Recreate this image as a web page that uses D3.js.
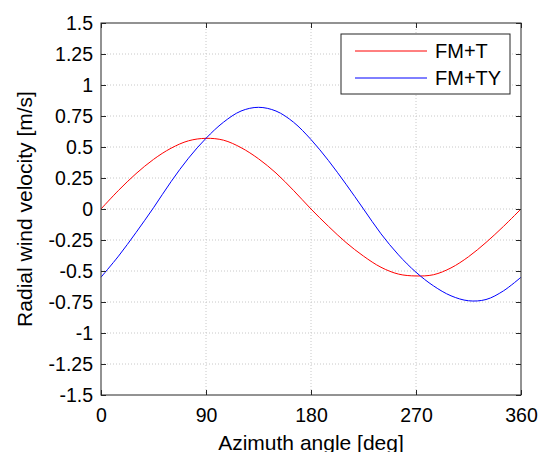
<!DOCTYPE html>
<html>
<head>
<meta charset="utf-8">
<script src="https://cdn.jsdelivr.net/npm/d3@7"></script>
<style>
  body { margin: 0; background: #fff; }
  svg { display: block; font-family: "Liberation Sans", Arial, sans-serif; }
</style>
</head>
<body>
<svg width="539" height="452"></svg>
<script>
// Data
var angles = [0, 15, 30, 45, 60, 75, 90, 105, 120, 135, 150, 165, 180,
              195, 210, 225, 240, 255, 270, 285, 300, 315, 330, 345, 360];
var fmT  = [0, 0.15, 0.285, 0.40, 0.49, 0.55, 0.57, 0.555, 0.495, 0.405, 0.29, 0.15, 0,
            -0.14, -0.27, -0.38, -0.47, -0.525, -0.54, -0.53, -0.475, -0.385, -0.27, -0.14, 0];
var fmTY = [-0.55, -0.38, -0.19, 0.01, 0.22, 0.41, 0.57, 0.70, 0.79, 0.82, 0.79, 0.70, 0.56,
            0.39, 0.20, 0, -0.20, -0.37, -0.51, -0.62, -0.70, -0.74, -0.73, -0.66, -0.55];
var xTicks = [0, 90, 180, 270, 360];
var yTicks = [-1.5, -1.25, -1, -0.75, -0.5, -0.25, 0, 0.25, 0.5, 0.75, 1, 1.25, 1.5];
var series = [
  { name: 'FM+T',  values: fmT,  color: '#ff0000' },
  { name: 'FM+TY', values: fmTY, color: '#0000ff' }
];

var margin = { left: 101, top: 23, right: 521, bottom: 395 };
var svg = d3.select('svg');

var x = d3.scaleLinear().domain([0, 360]).range([margin.left, margin.right]);
var y = d3.scaleLinear().domain([-1.5, 1.5]).range([margin.bottom, margin.top]);

// Grid
var grid = svg.append('g');
grid.selectAll('.gx').data(xTicks.slice(1, -1)).enter().append('line')
  .attr('x1', x).attr('x2', x).attr('y1', margin.top).attr('y2', margin.bottom)
  .style('stroke', '#c8c8c8').style('stroke-dasharray', '1,2');
grid.selectAll('.gy').data(yTicks.slice(1, -1)).enter().append('line')
  .attr('y1', y).attr('y2', y).attr('x1', margin.left).attr('x2', margin.right)
  .style('stroke', '#c8c8c8').style('stroke-dasharray', '1,2');

// Curves
var line = d3.line()
  .x(function(d, i) { return x(angles[i]); })
  .y(function(d) { return y(d); })
  .curve(d3.curveCatmullRom);

svg.selectAll('.curve').data(series).enter().append('path')
  .attr('d', function(d) { return line(d.values); })
  .style('fill', 'none')
  .style('stroke', function(d) { return d.color; })
  .style('stroke-width', 1);

// Axes (ticks inward on all four sides)
var tickLen = 5;
function styleAxis(g) {
  g.select('.domain').remove();
  g.selectAll('line').style('stroke', '#262626');
  g.selectAll('text').style('font-size', '19.5px').style('fill', '#000');
}
svg.append('g').attr('transform', 'translate(0,' + margin.bottom + ')')
  .call(d3.axisBottom(x).tickValues(xTicks).tickSize(-tickLen).tickPadding(13))
  .call(styleAxis);
svg.append('g').attr('transform', 'translate(0,' + margin.top + ')')
  .call(d3.axisTop(x).tickValues(xTicks).tickSize(-tickLen).tickFormat(''))
  .call(styleAxis);
svg.append('g').attr('transform', 'translate(' + margin.left + ',0)')
  .call(d3.axisLeft(y).tickValues(yTicks).tickSize(-tickLen).tickPadding(8)
        .tickFormat(function(d) { return String(d); }))
  .call(styleAxis);
svg.append('g').attr('transform', 'translate(' + margin.right + ',0)')
  .call(d3.axisRight(y).tickValues(yTicks).tickSize(-tickLen).tickFormat(''))
  .call(styleAxis);

// Frame
svg.append('rect')
  .attr('x', margin.left).attr('y', margin.top)
  .attr('width', margin.right - margin.left).attr('height', margin.bottom - margin.top)
  .style('fill', 'none').style('stroke', '#262626').style('stroke-width', 1);

// Axis labels
svg.append('text')
  .attr('x', (margin.left + margin.right) / 2).attr('y', 450)
  .attr('text-anchor', 'middle').style('font-size', '21px')
  .text('Azimuth angle [deg]');
svg.append('text')
  .attr('transform', 'translate(32,' + ((margin.top + margin.bottom) / 2) + ') rotate(-90)')
  .attr('text-anchor', 'middle').style('font-size', '21px')
  .text('Radial wind velocity [m/s]');

// Legend
var legend = svg.append('g');
legend.append('rect')
  .attr('x', 341).attr('y', 34).attr('width', 169).attr('height', 60)
  .style('fill', '#fff').style('stroke', '#262626').style('stroke-width', 1);
var entry = legend.selectAll('.entry').data(series).enter().append('g')
  .attr('transform', function(d, i) { return 'translate(0,' + (51 + i * 27) + ')'; });
entry.append('line')
  .attr('x1', 355).attr('x2', 427)
  .style('stroke', function(d) { return d.color; }).style('stroke-width', 1);
entry.append('text')
  .attr('x', 435).attr('dy', '0.35em').style('font-size', '20px')
  .text(function(d) { return d.name; });
</script>
</body>
</html>
